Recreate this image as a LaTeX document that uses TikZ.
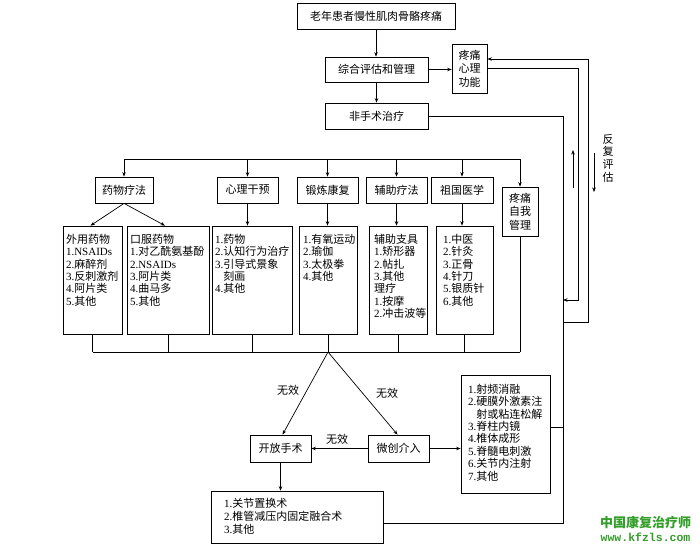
\documentclass[tikz,border=0pt]{standalone}
\usepackage{fontspec}
\setmainfont{Liberation Serif}
\newfontfamily\cjk{Noto Sans CJK SC}
\newfontfamily\wmmono{Liberation Mono}
\usetikzlibrary{arrows.meta,calc}
\definecolor{wmgreen}{RGB}{52,158,42}
\XeTeXinterchartokenstate=1
\newXeTeXintercharclass\CJKcls
\newcount\cjkcnt
\cjkcnt="4E00\relax
\loop
\XeTeXcharclass\cjkcnt=\CJKcls\relax
\ifnum\cjkcnt<"9FFF\relax \advance\cjkcnt by 1\relax \repeat
\XeTeXinterchartoks 0 \CJKcls = {\cjk}
\XeTeXinterchartoks 4095 \CJKcls = {\cjk}
\XeTeXinterchartoks \CJKcls 0 = {\rmfamily}
\XeTeXinterchartoks \CJKcls 4095 = {\rmfamily}
\begin{document}
\begin{tikzpicture}[x=1pt,y=-1pt, line width=0.7pt,
  bx/.style={draw, rectangle, inner sep=0pt, align=center, font=\fontsize{11}{13.5}\selectfont},
  lb/.style={draw, rectangle, inner sep=0pt},
  lt/.style={anchor=north west, inner sep=0pt, align=left, font=\fontsize{11}{12.4}\selectfont},
  arr/.style={-{Stealth[length=4.5pt,width=3.5pt]}},
  lbl/.style={inner sep=0pt, align=center, font=\fontsize{11}{12.6}\selectfont}]
\fill[white] (0,0) rectangle (700,548);
\useasboundingbox (0,0) rectangle (700,548);

% top chain
\node[bx, minimum width=158pt, minimum height=26pt] (top) at (376,16) {老年患者慢性肌肉骨骼疼痛};
\node[bx, minimum width=103pt, minimum height=25pt] (zh) at (376.5,69.5) {综合评估和管理};
\node[bx, minimum width=35pt, minimum height=49pt] (xl) at (469.5,68.5) {疼痛\\心理\\功能};
\node[bx, minimum width=103pt, minimum height=26pt] (fs) at (376.5,116) {非手术治疗};
\draw[arr] (top.south) -- (top.south |- zh.north);
\draw[arr] (zh.south) -- (zh.south |- fs.north);
\draw[arr] (zh.east) -- (zh.east -| xl.west);

% categories
\node[bx, minimum width=58pt, minimum height=26pt] (yw) at (124,190) {药物疗法};
\node[bx, minimum width=61pt, minimum height=26pt] (xlgy) at (247.5,190) {心理干预};
\node[bx, minimum width=61pt, minimum height=26pt] (dl) at (327.5,190) {锻炼康复};
\node[bx, minimum width=61pt, minimum height=26pt] (fz) at (396.5,190) {辅助疗法};
\node[bx, minimum width=62pt, minimum height=26pt] (zg) at (462,190) {祖国医学};
\node[bx, minimum width=36pt, minimum height=49pt] (zw) at (520,211.5) {疼痛\\自我\\管理};

\coordinate (b1) at (0,159);
\draw (yw.north |- b1) -- (zw.north |- b1);
\foreach \n in {yw,xlgy,dl,fz,zg,zw}
  \draw[arr] (\n.north |- b1) -- (\n.north);

% list boxes
\node[lb, minimum width=59pt, minimum height=108pt] (L1) at (92.5,280) {};
\node[lb, minimum width=82pt, minimum height=108pt] (L2) at (168,280) {};
\node[lb, minimum width=80pt, minimum height=108pt] (L3) at (252,280) {};
\node[lb, minimum width=58pt, minimum height=108pt] (L4) at (328,280) {};
\node[lb, minimum width=58pt, minimum height=108pt] (L5) at (398,280) {};
\node[lb, minimum width=57pt, minimum height=108pt] (L6) at (464.5,280) {};

\node[lt] (T1) at ($(L1.north west)+(3,8)$) {外用药物\\1.NSAIDs\\2.麻醉剂\\3.反刺激剂\\4.阿片类\\5.其他};
\node[lt] (T2) at ($(L2.north west)+(3,8)$) {口服药物\\1.对乙酰氨基酚\\2.NSAIDs\\3.阿片类\\4.曲马多\\5.其他};
\node[lt] (T3) at ($(L3.north west)+(3,8)$) {1.药物\\2.认知行为治疗\\3.引导式景象\\\phantom{3.}刻画\\4.其他};
\node[lt] (T4) at ($(L4.north west)+(4,8)$) {1.有氧运动\\2.瑜伽\\3.太极拳\\4.其他};
\node[lt] (T5) at ($(L5.north west)+(5,8)$) {辅助支具\\1.矫形器\\2.帖扎\\3.其他\\理疗\\1.按摩\\2.冲击波等};
\node[lt] (T6) at ($(L6.north west)+(7,8)$) {1.中医\\2.针灸\\3.正骨\\4.针刀\\5.银质针\\6.其他};

\draw[arr] (yw.south) -- ($(L1.north)+(-2,0)$);
\draw[arr] (yw.south) -- ($(L2.north)+(-3,0)$);
\draw[arr] (xlgy.south) -- (xlgy.south |- L3.north);
\draw[arr] (dl.south) -- (dl.south |- L4.north);
\draw[arr] (fz.south) -- (fz.south |- L5.north);
\draw[arr] (zg.south) -- (zg.south |- L6.north);

% bottom bus
\coordinate (b2) at (0,352);
\draw (L1.south |- b2) -- (zw.south |- b2);
\foreach \n in {L1,L2,L3,L4,L5,L6,zw}
  \draw (\n.south) -- (\n.south |- b2);
\coordinate (sp) at (L4.south |- b2);

% surgery
\node[bx, minimum width=61pt, minimum height=27pt] (kf) at (280.5,448.5) {开放手术};
\node[bx, minimum width=61pt, minimum height=27pt] (wc) at (398.5,448.5) {微创介入};
\node[lb, minimum width=89pt, minimum height=118pt] (ml) at (505.5,434) {};
\node[lt] (Tm) at ($(ml.north west)+(7,9)$) {1.射频消融\\2.硬膜外激素注\\\phantom{2.}射或粘连松解\\3.脊柱内镜\\4.椎体成形\\5.脊髓电刺激\\6.关节内注射\\7.其他};
\node[lb, minimum width=172pt, minimum height=52pt] (bb) at (297,517) {};
\node[lt, font=\fontsize{11}{13}\selectfont] (Tb) at ($(bb.north west)+(13,7)$) {1.关节置换术\\2.椎管减压内固定融合术\\3.其他};

\draw[arr] (sp) -- ($(kf.north)+(2,0)$);
\draw[arr] (sp) -- ($(wc.north)+(-1,0)$);
\draw[arr] (wc.west) -- (kf.east);
\draw[arr] (wc.east) -- (wc.east -| ml.west);
\draw[arr] (kf.south) -- (kf.south |- bb.north);
\node[lbl] (w1) at (288,390) {无效};
\node[lbl] (w2) at (387,393) {无效};
\node[lbl] (w3) at (337,439) {无效};

% right spine and feedback
\coordinate (s1) at (563,116);
\coordinate (s2) at (563,523);
\draw (fs.east) -- (s1) -- (s2) -- (s2 -| bb.east);
\coordinate (mlc) at ($(ml.east)+(0,-7)$);
\draw (mlc) -- (mlc -| s1);
\coordinate (fb1) at (588,322);
\coordinate (fb2) at (578,300);
\coordinate (xlA) at ($(xl.east)+(0,-9.5)$);
\draw[arr] (fb1 -| s1) -- (fb1) -- (fb1 |- xlA) -- (xlA);
\draw[arr] (xl.east) -- (xl.east -| fb2) -- (fb2) -- (fb2 -| s1);
\coordinate (ua1) at (573,188);
\coordinate (ua2) at (573,150);
\coordinate (da1) at (594,153);
\coordinate (da2) at (594,192);
\draw[arr, line width=0.6pt] (ua1) -- (ua2);
\draw[arr, line width=0.6pt] (da1) -- (da2);
\node[lbl] (fp) at (608,158) {反\\复\\评\\估};

% watermark
\node[inner sep=0pt, text=wmgreen, font=\fontsize{13}{13}\selectfont] (wm1) at (645.5,523) {\XeTeXinterchartokenstate=0 \cjk\bfseries 中国康复治疗师};
\node[inner sep=0pt, text=wmgreen, font=\fontsize{11.5}{12}\selectfont] (wm2) at (645.5,537) {\wmmono\bfseries www.kfzls.com};
\end{tikzpicture}
\end{document}
